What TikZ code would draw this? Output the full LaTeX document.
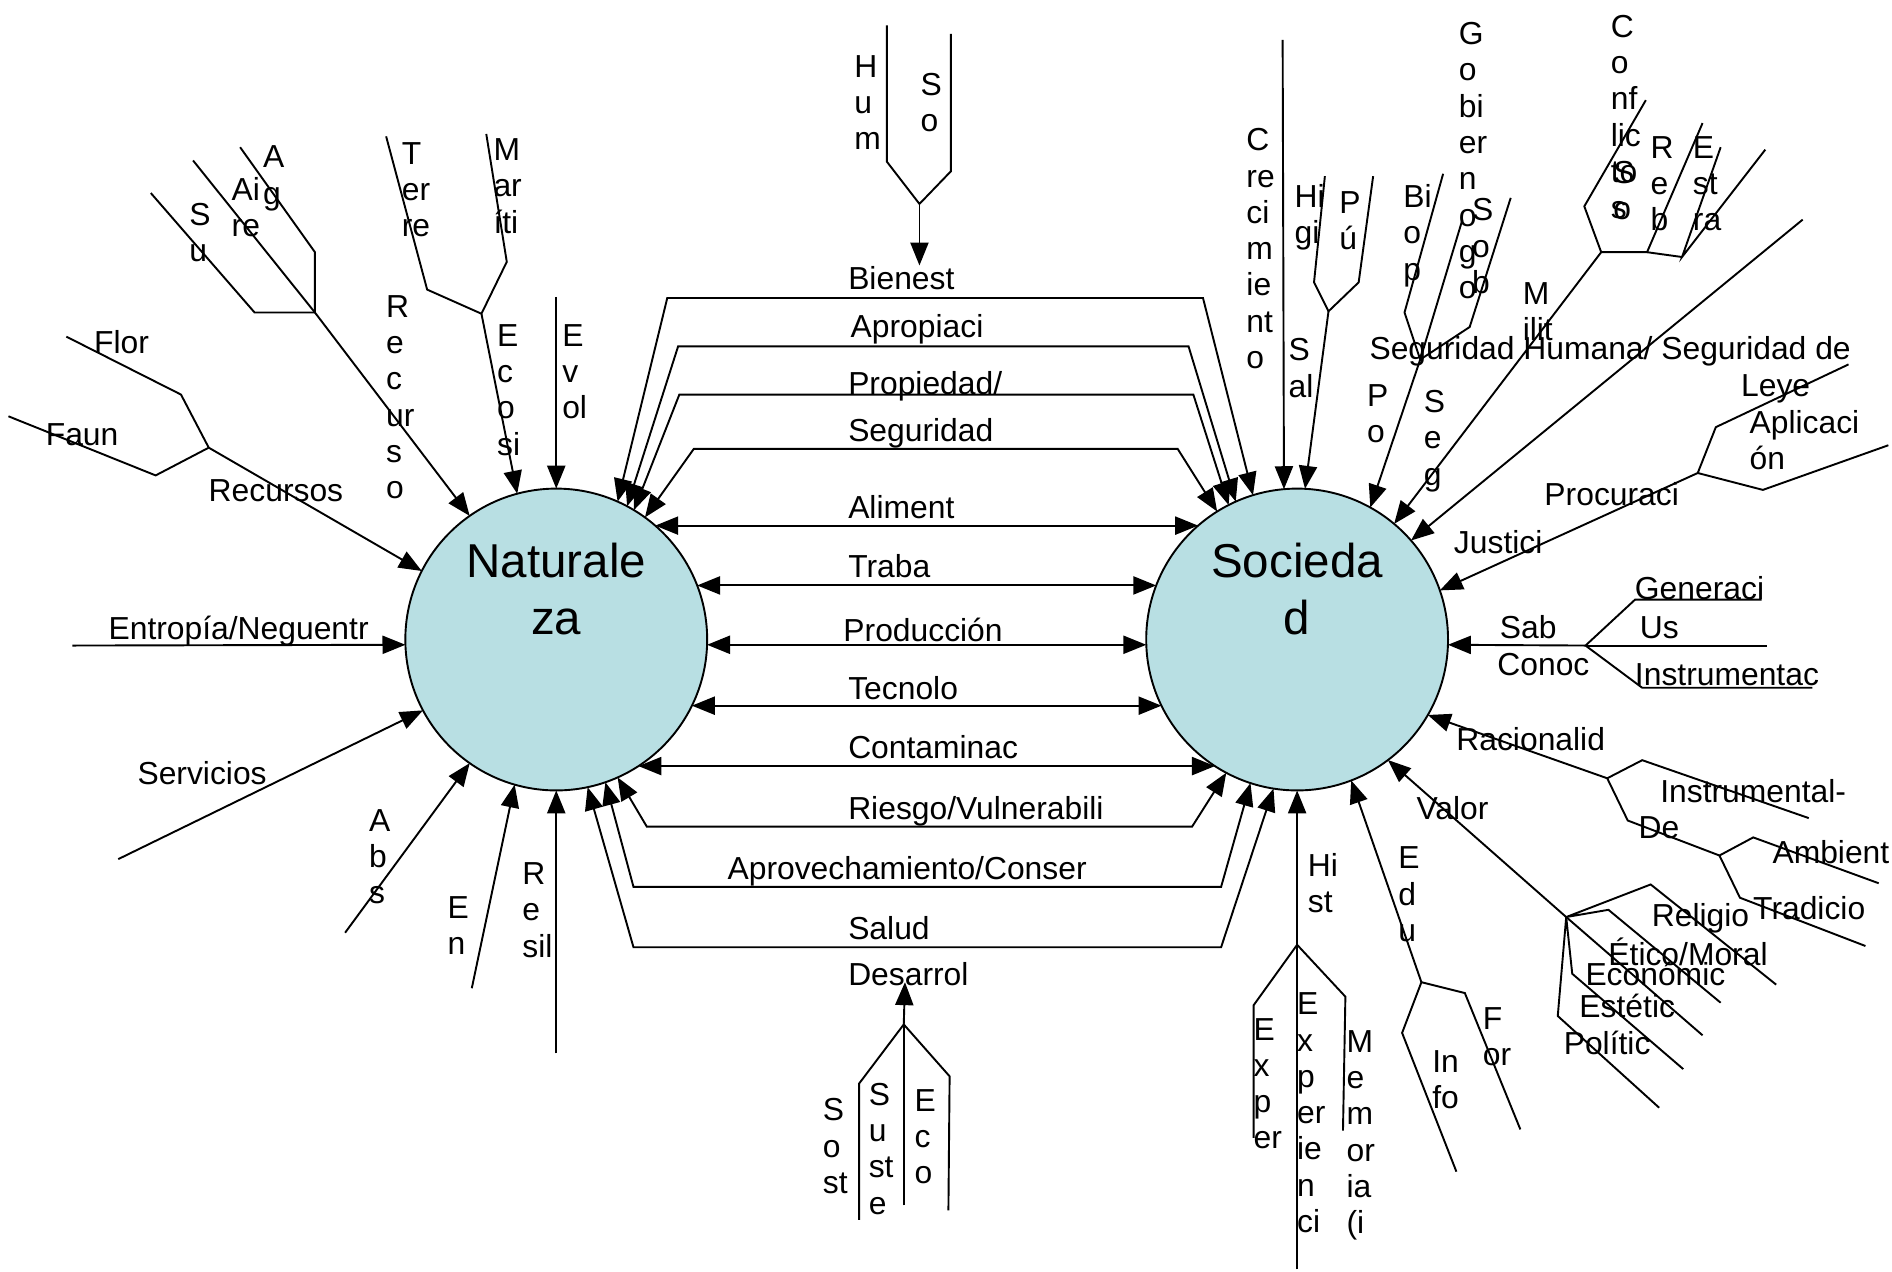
\documentclass[tikz,border=0pt]{standalone}
\usepackage{fontspec}
\setmainfont{Liberation Sans}
\usetikzlibrary{arrows.meta}
\definecolor{ballfill}{RGB}{184,223,227}
\newcommand{\stk}[1]{\begin{tabular}[t]{@{}l@{}}#1\end{tabular}}

\begin{document}
\begin{tikzpicture}[x=0.01cm, y=-0.01cm, line width=0.45pt]
        \tikzstyle{every node}=[inner sep=0pt, outer sep=0pt]
        \tikzstyle{lbl}=[anchor=base west, font=\fontsize{7.5}{8.55}\selectfont]
        \tikzstyle{ball}=[circle, draw, fill=ballfill, minimum size=2.5cm]
        \tikzstyle{big}=[anchor=base, font=\fontsize{11.2}{13.4}\selectfont]
        \tikzstyle{tip}=[-{Triangle[length=0.19cm, width=0.15cm]}]
        \tikzstyle{both}=[{Triangle[length=0.19cm, width=0.15cm]}-{Triangle[length=0.19cm, width=0.15cm]}]

        \useasboundingbox (0,0) rectangle (1568,1054);

        \node[ball] (nat) at (461,530) {};
        \node[ball] (soc) at (1075,530) {};
        \node[big] (natTxt) at (461,479) {\begin{tabular}[t]{@{}c@{}}Naturale\\za\end{tabular}};
        \node[big] (socTxt) at (1075,479) {\begin{tabular}[t]{@{}c@{}}Socieda\\d\end{tabular}};

        % free ends and junctions
        \foreach \n/\x/\y in {hmA/735/21, hmB/735/134, soA/788/28, soB/788/142, bnJ/762/169, bnT/762/220,
            dsT/750/814, dsJ/749/849, dsA/712/898, dsB/712/1011, dsC/749/999, dsD/787/892, dsE/786/1003,
            entA/60/535, srvA/98/712,
            flA/55/279, flB/150/327, rcJ/173/371, faA/7/345, faB/129/394,
            aiA/160/133, aiJ/261/259, agA/199/122, agB/261/209, suA/125/160, suB/211/259,
            teA/320/113, teB/354/240, ecJ/399/260, maA/403/111, maB/420/217, evA/461/246,
            abA/286/773, enA/391/819, reA/461/873,
            bienL/553/247, bienR/997/247, aproL/562/287, aproR/985/287,
            propL/563/327, propR/989/327, seguL/575/372, seguR/976/372,
            riesL/536/685, riesR/988/685, aprvL/525/735, aprvR/1012/735, saluL/525/785, saluR/1012/785,
            crA/1063/33, hiA/1098/146, hiB/1089/234, spJ/1101/258, puA/1138/146, puB/1126/234,
            biA/1196/144, biB/1164/259, goJ/1177/298, sbA/1252/164, sbB/1218/271, goA/1212/182,
            cfA/1364/83, cfB/1313/171, mlJ/1327/209, rbA/1411/102, rbB/1365/209,
            esA/1426/122, esB/1394/213, e4A/1463/124, shA/1494/182,
            lyA/1532/302, lyB/1422/354, jsJ/1407/392, apA/1565/369, apB/1461/406,
            knJ/1314/535, gnA/1355/497, gnB/1460/497, usB/1464/535, inA/1361/570, inB/1502/570,
            raJ/1332/645, isA/1361/630, isB/1499/678, deA/1349/680, deJ/1425/709,
            amA/1453/694, amB/1557/732, trA/1442/744, trB/1546/784,
            vaJ/1298/760, rlA/1368/733, rlB/1472/816, etA/1333/754, etB/1426/831, eoB/1411/858,
            stA/1303/807, stB/1395/886, poA/1291/842, poB/1375/918,
            edJ/1178/814, ifA/1162/856, ifB/1207/971, foA/1214/823, foB/1260/936,
            hsA/1075/1052, hsJ/1075/783, exA/1039/833, exB/1039/943, meA/1115/826, meB/1113/937}
            \coordinate (\n) at (\x,\y);

        % between the two circles
        \foreach \a/\b in {49/131, 21/159, -2/182, -26/206, -57/237}
            \draw[both] (nat.\a) -- (soc.\b);
        \draw[both] (nat.66) -- (bienL) -- (bienR) -- (soc.107);
        \draw[both] (nat.62) -- (aproL) -- (aproR) -- (soc.114);
        \draw[both] (nat.59) -- (propL) -- (propR) -- (soc.117);
        \draw[both] (nat.54) -- (seguL) -- (seguR) -- (soc.122);
        \draw[both] (nat.-66) -- (riesL) -- (riesR) -- (soc.-118);
        \draw[both] (nat.-71) -- (aprvL) -- (aprvR) -- (soc.-108);
        \draw[both] (nat.-78) -- (saluL) -- (saluR) -- (soc.-99);

        % top and bottom
        \draw (hmA) -- (hmB) -- (bnJ) -- (soB) -- (soA);
        \draw[tip] (bnJ) -- (bnT);
        \draw (dsB) -- (dsA) -- (dsJ) -- (dsD) -- (dsE);
        \draw (dsC) -- (dsJ);
        \draw[tip] (dsJ) -- (dsT);

        % into Naturaleza
        \draw[tip] (entA) -- (nat.182);
        \draw[tip] (srvA) -- (nat.208);
        \draw (flA) -- (flB) -- (rcJ) -- (faB) -- (faA);
        \draw[tip] (rcJ) -- (nat.153);
        \draw (aiA) -- (aiJ);
        \draw (agA) -- (agB) -- (aiJ) -- (suB) -- (suA);
        \draw[tip] (aiJ) -- (nat.125);
        \draw (teA) -- (teB) -- (ecJ) -- (maB) -- (maA);
        \draw[tip] (ecJ) -- (nat.105);
        \draw[tip] (evA) -- (nat.90);
        \draw[tip] (abA) -- (nat.-125);
        \draw[tip] (enA) -- (nat.-106);
        \draw[tip] (reA) -- (nat.-90);

        % into Sociedad
        \draw[tip] (crA) -- (soc.95);
        \draw (hiA) -- (hiB) -- (spJ) -- (puB) -- (puA);
        \draw[tip] (spJ) -- (soc.87);
        \draw (biA) -- (biB) -- (goJ) -- (sbB) -- (sbA);
        \draw[tip] (goA) -- (goJ) -- (soc.61);
        \draw (cfA) -- (cfB) -- (mlJ) -- (rbB) -- (rbA);
        \draw (esA) -- (esB) -- (e4A);
        \draw (esB) -- (rbB);
        \draw[tip] (mlJ) -- (soc.50);
        \draw[tip] (shA) -- (soc.41);
        \draw (lyA) -- (lyB) -- (jsJ) -- (apB) -- (apA);
        \draw[tip] (jsJ) -- (soc.19);
        \draw (gnB) -- (gnA) -- (knJ) -- (inA) -- (inB);
        \draw (knJ) -- (usB);
        \draw[tip] (knJ) -- (soc.-2);
        \draw (isB) -- (isA) -- (raJ) -- (deA) -- (deJ);
        \draw (amB) -- (amA) -- (deJ) -- (trA) -- (trB);
        \draw[tip] (raJ) -- (soc.-30);
        \draw (rlB) -- (rlA) -- (vaJ) -- (etA) -- (etB);
        \draw (vaJ) -- (eoB);
        \draw (stB) -- (stA) -- (vaJ) -- (poA) -- (poB);
        \draw[tip] (vaJ) -- (soc.-53);
        \draw (ifB) -- (ifA) -- (edJ) -- (foA) -- (foB);
        \draw[tip] (edJ) -- (soc.-69);
        \draw (exB) -- (exA) -- (hsJ) -- (meA) -- (meB);
        \draw[tip] (hsA) -- (soc.-90);

        % labels between the circles
        \node[lbl] (lBien) at (703,240) {Bienest};
        \node[lbl] (lApro) at (705,280) {Apropiaci};
        \node[lbl] (lProp) at (703,327) {Propiedad/};
        \node[lbl] (lSegu) at (703,366) {Seguridad};
        \node[lbl] (lAlim) at (703,430) {Aliment};
        \node[lbl] (lTrab) at (703,479) {Traba};
        \node[lbl] (lProd) at (699,532) {Producción};
        \node[lbl] (lTecn) at (703,580) {Tecnolo};
        \node[lbl] (lCont) at (703,629) {Contaminac};
        \node[lbl] (lRies) at (703,679) {Riesgo/Vulnerabili};
        \node[lbl] (lAprv) at (603,729) {Aprovechamiento/Conser};
        \node[lbl] (lSalu) at (703,779) {Salud};
        \node[lbl] (lDesa) at (703,817) {Desarrol};
        \node[lbl] (lHum) at (708,64) {\stk{H\\u\\m}};
        \node[lbl] (lSo) at (763,79) {\stk{S\\o}};
        \node[lbl] (lSost) at (682,929) {\stk{S\\o\\st}};
        \node[lbl] (lSust) at (720,916) {\stk{S\\u\\st\\e}};
        \node[lbl] (lEcon) at (758,921) {\stk{E\\c\\o}};

        % labels round Naturaleza
        \node[lbl] (lEntr) at (90,530) {Entropía/Neguentr};
        \node[lbl] (lServ) at (114,650) {Servicios};
        \node[lbl] (lRecs) at (173,416) {Recursos};
        \node[lbl] (lFlor) at (78,293) {Flor};
        \node[lbl] (lFaun) at (38,369) {Faun};
        \node[lbl] (lAgua) at (218,139) {\stk{A\\g}};
        \node[lbl] (lAire) at (192,166) {\stk{Ai\\re}};
        \node[lbl] (lSuel) at (157,187) {\stk{S\\u}};
        \node[lbl] (lTerr) at (333,136) {\stk{T\\er\\re}};
        \node[lbl] (lMari) at (409,133) {\stk{M\\ar\\íti}};
        \node[lbl] (lRecu) at (320,263) {\stk{R\\e\\c\\ur\\s\\o}};
        \node[lbl] (lEcos) at (412,287) {\stk{E\\c\\o\\si}};
        \node[lbl] (lEvol) at (466,287) {\stk{E\\v\\ol}};
        \node[lbl] (lAbs) at (306,689) {\stk{A\\b\\s}};
        \node[lbl] (lEner) at (371,761) {\stk{E\\n}};
        \node[lbl] (lResi) at (433,733) {\stk{R\\e\\sil}};

        % labels round Sociedad
        \node[lbl] (lCrec) at (1033,125) {\stk{C\\re\\ci\\m\\ie\\nt\\o}};
        \node[lbl] (lHigi) at (1073,172) {\stk{Hi\\gi}};
        \node[lbl] (lPubl) at (1110,177) {\stk{P\\ú}};
        \node[lbl] (lSal) at (1068,299) {\stk{S\\al}};
        \node[lbl] (lBiop) at (1163,172) {\stk{Bi\\o\\p}};
        \node[lbl] (lGobi) at (1209,37) {\stk{G\\o\\bi\\er\\n\\o\\g\\o}};
        \node[lbl] (lSob) at (1220,183) {\stk{S\\o\\b}};
        \node[lbl] (lMili) at (1262,252) {\stk{M\\ilit}};
        \node[lbl] (lPo) at (1133,337) {\stk{P\\o}};
        \node[lbl] (lSeg) at (1180,342) {\stk{S\\e\\g}};
        \node[lbl] (lConf) at (1335,31) {\stk{C\\o\\nf\\lic\\to\\s}};
        \node[lbl] (lSoc) at (1337,152) {\stk{S\\o}};
        \node[lbl] (lRebe) at (1368,131) {\stk{R\\e\\b}};
        \node[lbl] (lEstr) at (1403,131) {\stk{E\\st\\ra}};
        \node[lbl] (lSegH) at (1135,298) {Seguridad Humana/ Seguridad de};
        \node[lbl] (lLeye) at (1443,329) {Leye};
        \node[lbl] (lApli) at (1450,359) {\stk{Aplicaci\\ón}};
        \node[lbl] (lProc) at (1280,419) {Procuraci};
        \node[lbl] (lJust) at (1205,459) {Justici};
        \node[lbl] (lGene) at (1355,497) {Generaci};
        \node[lbl] (lUs) at (1359,529) {Us};
        \node[lbl] (lInst) at (1355,568) {Instrumentac};
        \node[lbl] (lSab) at (1243,529) {Sab};
        \node[lbl] (lCono) at (1241,560) {Conoc};
        \node[lbl] (lRaci) at (1207,622) {Racionalid};
        \node[lbl] (lInsm) at (1376,665) {Instrumental-};
        \node[lbl] (lDe) at (1358,695) {De};
        \node[lbl] (lAmbi) at (1469,716) {Ambient};
        \node[lbl] (lTrad) at (1453,762) {Tradicio};
        \node[lbl] (lValo) at (1174,679) {Valor};
        \node[lbl] (lReli) at (1369,768) {Religio};
        \node[lbl] (lEtic) at (1333,800) {Ético/Moral};
        \node[lbl] (lEcoc) at (1314,817) {Económic};
        \node[lbl] (lEste) at (1309,843) {Estétic};
        \node[lbl] (lPoli) at (1296,874) {Polític};
        \node[lbl] (lEduc) at (1159,720) {\stk{E\\d\\u}};
        \node[lbl] (lInfo) at (1187,889) {\stk{In\\fo}};
        \node[lbl] (lForm) at (1229,853) {\stk{F\\or}};
        \node[lbl] (lHist) at (1084,726) {\stk{Hi\\st}};
        \node[lbl] (lExpr) at (1039,862) {\stk{E\\x\\p\\er}};
        \node[lbl] (lExpc) at (1075,841) {\stk{E\\x\\p\\er\\ie\\n\\ci}};
        \node[lbl] (lMemo) at (1116,872) {\stk{M\\e\\m\\or\\ia\\(i}};

    \end{tikzpicture}
\end{document}
